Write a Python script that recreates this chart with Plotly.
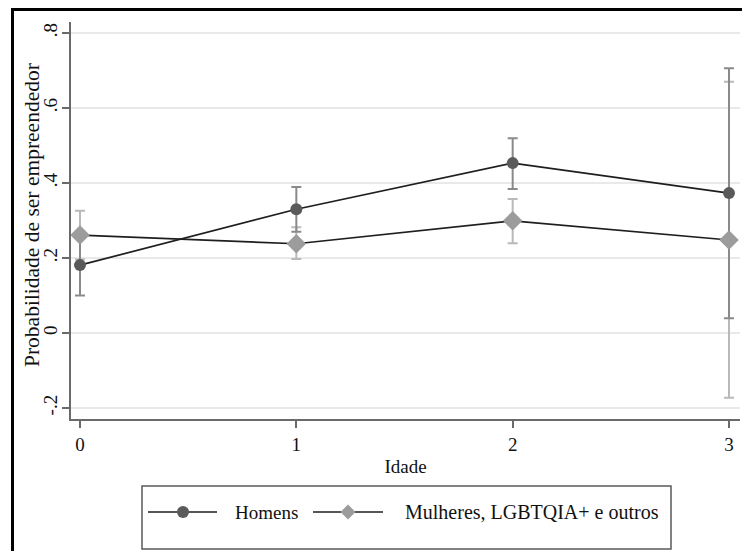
import plotly.graph_objects as go

# ---- data ----
idade = [0, 1, 2, 3]
homens = [0.181, 0.330, 0.453, 0.373]
homens_lo = [0.100, 0.270, 0.384, 0.039]
homens_hi = [0.262, 0.389, 0.519, 0.706]
mulheres = [0.261, 0.238, 0.299, 0.248]
mulheres_lo = [0.196, 0.197, 0.239, -0.173]
mulheres_hi = [0.326, 0.282, 0.357, 0.670]
ytick_vals = [-0.2, 0, 0.2, 0.4, 0.6, 0.8]
ytick_text = ["-.2", "0", ".2", ".4", ".6", ".8"]
xtick_vals = [0, 1, 2, 3]
name_h = "Homens"
name_m = "Mulheres, LGBTQIA+ e outros"
x_title = "Idade"
y_title = "Probabilidade de ser empreendedor"

FONT = "Liberation Serif"
OFF = 8  # page body margin
W, H = 750 - OFF, 551 - OFF
# plot area in page pixels
L, R, T, B = 71, 740, 22, 419
Lf, Rf, Tf, Bf = L - OFF, R - OFF, T - OFF, B - OFF


def px(x):  # page px -> paper
    return (x - OFF - Lf) / (Rf - Lf)


def py(y):
    return (Bf - (y - OFF)) / (Bf - Tf)


def err(vals, lo, hi):
    return dict(type="data", symmetric=False,
                array=[h - v for v, h in zip(vals, hi)],
                arrayminus=[v - l for v, l in zip(vals, lo)])


fig = go.Figure()
fig.add_trace(go.Scatter(x=idade, y=mulheres, mode="markers", name=name_m + " IC",
                         marker=dict(size=1, color="rgba(0,0,0,0)"),
                         error_y={**err(mulheres, mulheres_lo, mulheres_hi),
                                  "color": "#b9b9b9", "thickness": 2, "width": 5},
                         showlegend=False, hoverinfo="skip"))
fig.add_trace(go.Scatter(x=idade, y=homens, mode="markers", name=name_h + " IC",
                         marker=dict(size=1, color="rgba(0,0,0,0)"),
                         error_y={**err(homens, homens_lo, homens_hi),
                                  "color": "#8a8a8a", "thickness": 2, "width": 5},
                         showlegend=False, hoverinfo="skip"))
fig.add_trace(go.Scatter(x=idade, y=mulheres, mode="lines+markers", name=name_m,
                         line=dict(color="#1e1e1e", width=1.7),
                         marker=dict(symbol="diamond", size=15, color="#9c9c9c"),
                         showlegend=False))
fig.add_trace(go.Scatter(x=idade, y=homens, mode="lines+markers", name=name_h,
                         line=dict(color="#1e1e1e", width=1.7),
                         marker=dict(symbol="circle", size=12, color="#5a5a5a"),
                         showlegend=False))

# x range so that 0 -> page px 80 and 3 -> page px 729
xspan = 3 / ((729 - 80) / (R - L))
x0 = -((80 - L) / (R - L)) * xspan
# y range so that .8 -> page px 33 and 0 -> page px 333
yspan = 0.8 / ((333 - 33) / (B - T))
y0 = -((B - 333) / (B - T)) * yspan

axis_common = dict(showline=True, linecolor="#6a6a6a", linewidth=1.5,
                   ticks="outside", ticklen=7, tickwidth=1.5, tickcolor="#6a6a6a",
                   zeroline=False,
                   tickfont=dict(family=FONT, size=19, color="#111111"))

fig.update_layout(
    width=W, height=H,
    margin=dict(l=Lf, r=W - Rf, t=Tf, b=H - Bf),
    paper_bgcolor="white", plot_bgcolor="white",
    font=dict(family=FONT, size=19, color="#111111"),
    showlegend=False,
    xaxis=dict(range=[x0, x0 + xspan], tickvals=xtick_vals, showgrid=False,
               title=dict(text=x_title, font=dict(family=FONT, size=19), standoff=6),
               **axis_common),
    yaxis=dict(range=[y0, y0 + yspan], tickvals=ytick_vals, ticktext=ytick_text,
               tickangle=-90, showgrid=True, gridcolor="#e9e9e9", gridwidth=1.5,
               ticklabelstandoff=-2,
               **axis_common),
)

fig.add_annotation(xref="paper", yref="paper", x=px(32), y=py(215), text=y_title,
                   textangle=-90, showarrow=False, xanchor="center", yanchor="middle",
                   font=dict(family=FONT, size=21.5, color="#111111"))

frame = dict(color="black", width=3)
shapes = [
    # outer frame (top, left, right)
    dict(type="line", xref="paper", yref="paper", x0=px(11), x1=px(748.5),
         y0=py(9.5), y1=py(9.5), line=frame, layer="above"),
    dict(type="line", xref="paper", yref="paper", x0=px(12.5), x1=px(12.5),
         y0=py(8), y1=py(560), line=frame, layer="above"),
    dict(type="line", xref="paper", yref="paper", x0=px(747), x1=px(747),
         y0=py(8), y1=py(560), line=frame, layer="above"),
    # legend box
    dict(type="rect", xref="paper", yref="paper",
         x0=px(142), x1=px(671), y0=py(486), y1=py(549),
         line=dict(color="#5a5a5a", width=1.5), layer="above"),
]
ly = 512
shapes += [
    dict(type="line", xref="paper", yref="paper",
         x0=px(148), x1=px(217), y0=py(ly), y1=py(ly),
         line=dict(color="#1e1e1e", width=1.7)),
    dict(type="circle", xref="paper", yref="paper",
         xsizemode="pixel", ysizemode="pixel",
         xanchor=px(183), yanchor=py(ly), x0=-6, x1=6, y0=-6, y1=6,
         fillcolor="#5a5a5a", line=dict(width=0)),
    dict(type="line", xref="paper", yref="paper",
         x0=px(313), x1=px(383), y0=py(ly), y1=py(ly),
         line=dict(color="#1e1e1e", width=1.7)),
    dict(type="path", xref="paper", yref="paper",
         xsizemode="pixel", ysizemode="pixel",
         xanchor=px(348), yanchor=py(ly),
         path="M -7.5 0 L 0 7.5 L 7.5 0 L 0 -7.5 Z",
         fillcolor="#9c9c9c", line=dict(width=0)),
]
fig.update_layout(shapes=shapes)

fig.add_annotation(xref="paper", yref="paper", x=px(233), y=py(ly), text=name_h,
                   showarrow=False, xanchor="left", yanchor="middle",
                   font=dict(family=FONT, size=19, color="#111111"))
fig.add_annotation(xref="paper", yref="paper", x=px(403), y=py(ly), text=name_m,
                   showarrow=False, xanchor="left", yanchor="middle",
                   font=dict(family=FONT, size=20, color="#111111"))

fig.write_html("out.html")
